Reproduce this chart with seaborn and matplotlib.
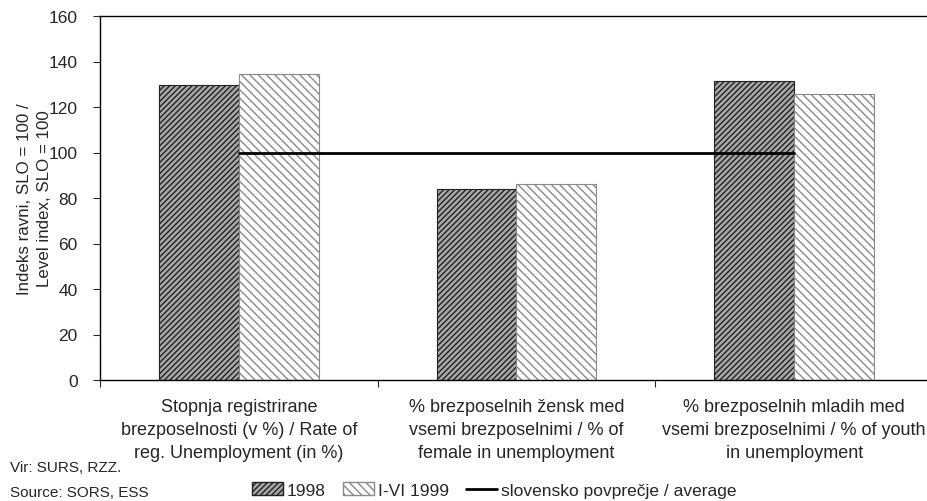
import pandas as pd
import matplotlib
matplotlib.use("Agg")
import matplotlib.pyplot as plt
import matplotlib.patches as mpatches
import matplotlib.lines as mlines
import seaborn as sns

# data
categories = [
    "Stopnja registrirane\nbrezposelnosti (v %) / Rate of\nreg. Unemployment (in %)",
    "% brezposelnih žensk med\nvsemi brezposelnimi / % of\nfemale in unemployment",
    "% brezposelnih mladih med\nvsemi brezposelnimi / % of youth\nin unemployment",
]
periods = ["1998", "I-VI 1999"]
values_1998 = [129.7, 83.8, 131.4]
values_1999 = [134.5, 86.0, 125.7]
average = [100, 100, 100]
avg_label = "slovensko povprečje / average"

df = pd.DataFrame({
    "cat": categories * 2,
    "period": [periods[0]] * 3 + [periods[1]] * 3,
    "value": values_1998 + values_1999,
})

sns.set_style("white")
plt.rcParams["font.family"] = ["Liberation Sans", "DejaVu Sans"]
plt.rcParams["hatch.linewidth"] = 1.0

fig = plt.figure(figsize=(9.28, 5.02), dpi=100)
ax = fig.add_axes([100 / 928, 1 - 381 / 502, 833 / 928, 364 / 502])

sns.barplot(data=df, x="cat", y="value", hue="period", hue_order=periods,
            order=categories, width=0.576, gap=0, palette=["#9a9a9a", "white"],
            edgecolor="black", linewidth=0.8, legend=False, ax=ax)

styles = [("#a8a8a8", "//////", "#222222"), ("white", "\\\\\\\\", "#8a8a8a")]
for cont, (fc, hatch, hc) in zip(ax.containers, styles):
    for bar in cont:
        bar.set_facecolor(fc)
        bar.set_hatch(hatch)
        bar.set_edgecolor(hc)

ax.plot([0, 1, 2], average, color="black", linewidth=2, zorder=5)

ax.set_xlim(-0.5, 2.5)
ax.set_ylim(0, 160)
ax.set_yticks(range(0, 161, 20))
ax.tick_params(axis="y", direction="out", length=5, width=0.8, labelsize=12.5, left=True, pad=11)
ax.tick_params(axis="x", direction="out", length=5, width=0.8, bottom=True)
ax.set_xticks([-0.5, 0.5, 1.5, 2.5])
ax.set_xticklabels([])
for i, lab in enumerate(categories):
    ax.text(i, -8, lab, ha="center", va="top", fontsize=13, linespacing=1.45)
ax.set_xlabel("")
ax.set_ylabel("Indeks ravni, SLO = 100 /\nLevel index, SLO = 100", fontsize=12.2, linespacing=1.35)
ax.yaxis.set_label_coords(-0.058, 0.5)
for s in ["left", "bottom", "top"]:
    ax.spines[s].set_visible(True)
    ax.spines[s].set_linewidth(1.0)
    ax.spines[s].set_color("black")
ax.spines["right"].set_visible(False)

fig.text(10 / 928, 1 - 468 / 502, "Vir: SURS, RZZ.", fontsize=11, va="center")
fig.text(10 / 928, 1 - 493 / 502, "Source: SORS, ESS", fontsize=11, va="center")

handles = [
    mpatches.Patch(facecolor=styles[0][0], hatch=styles[0][1], edgecolor=styles[0][2], label=periods[0]),
    mpatches.Patch(facecolor=styles[1][0], hatch=styles[1][1], edgecolor=styles[1][2], label=periods[1]),
    mlines.Line2D([], [], color="black", linewidth=2, label=avg_label),
]
fig.legend(handles=handles, loc="center", bbox_to_anchor=(494 / 928, 1 - 491 / 502),
           ncol=3, frameon=False, fontsize=12.5, handlelength=1.8, handletextpad=0.2,
           columnspacing=1.0, handleheight=0.8)

fig.savefig("out.png", dpi=100)
